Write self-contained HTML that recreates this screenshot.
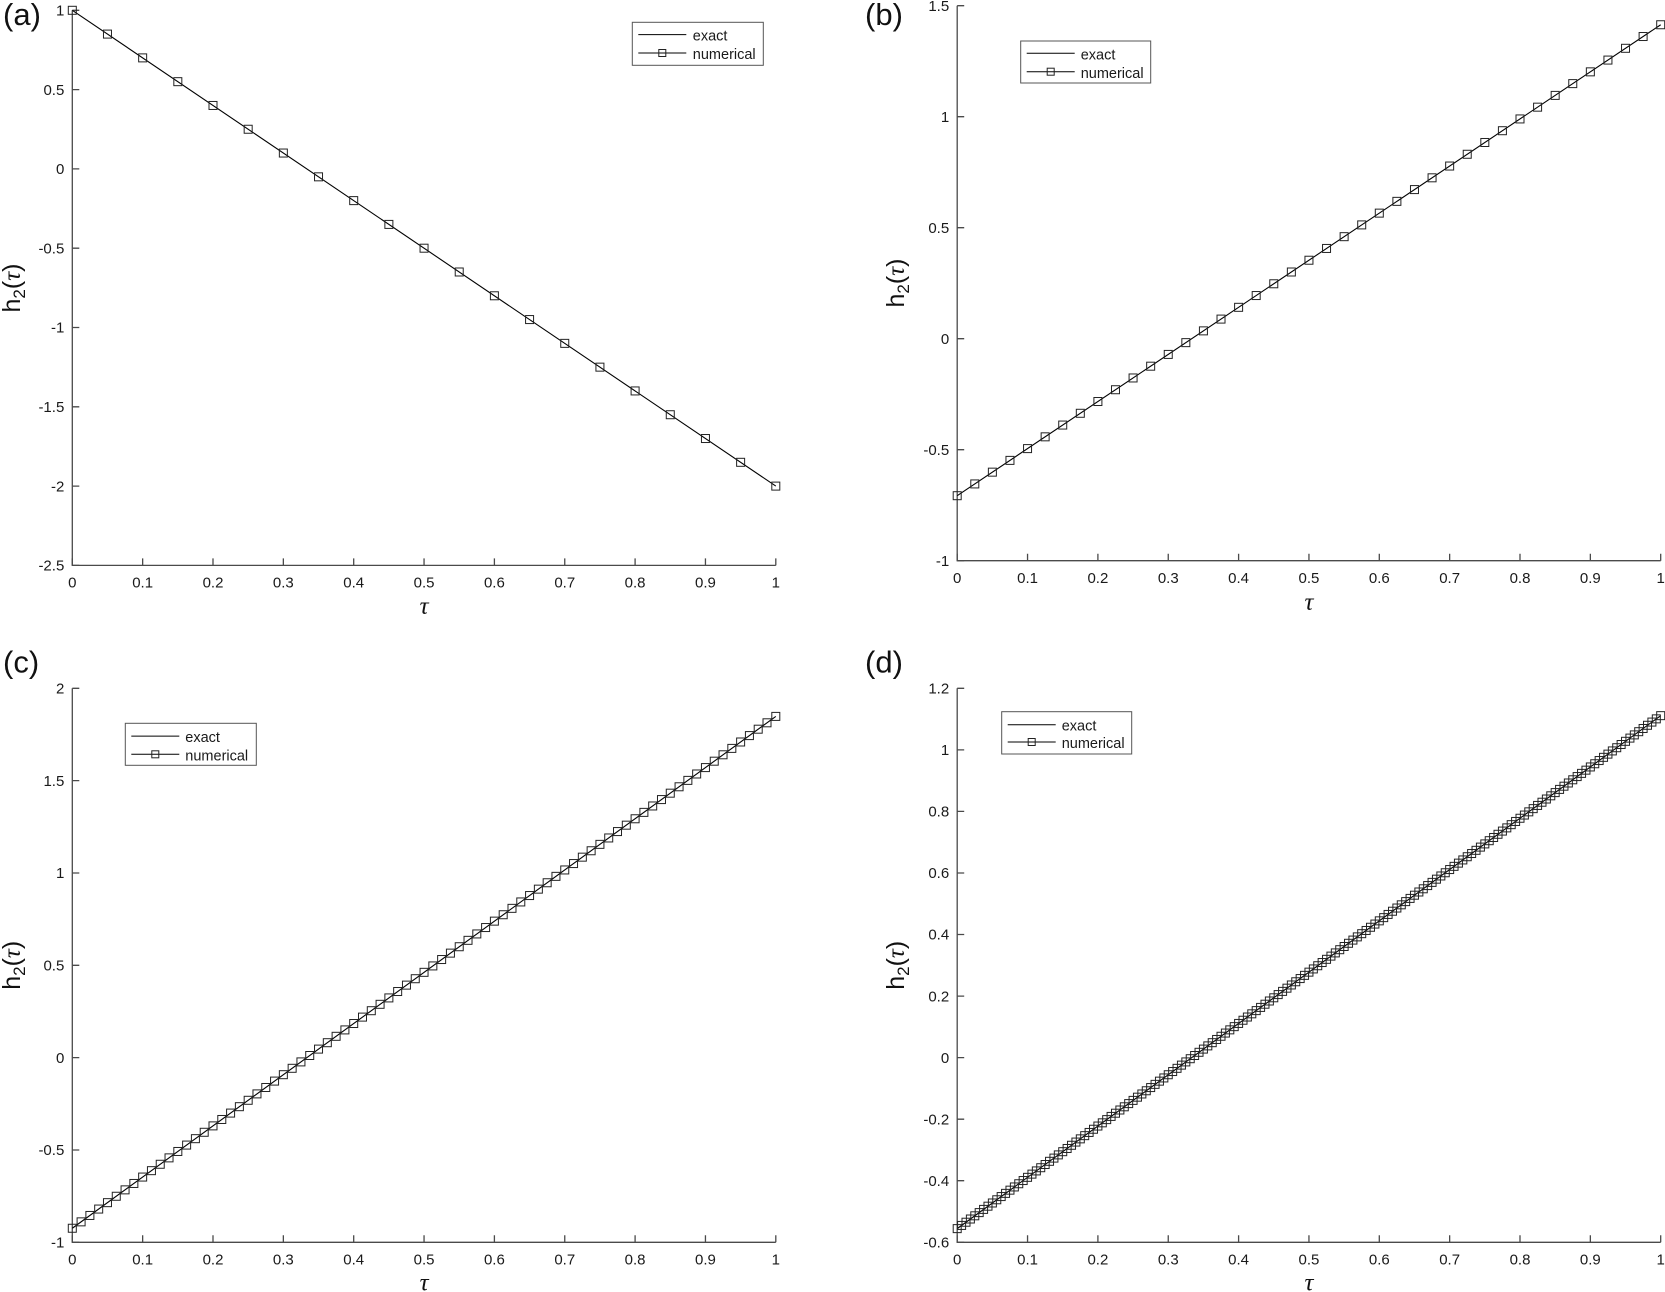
<!DOCTYPE html>
<html>
<head>
<meta charset="utf-8">
<style>
html,body{margin:0;padding:0;background:#fff;}
svg{display:block;}
.tk{font-family:"Liberation Sans",Arial,sans-serif;font-size:15px;fill:#1a1a1a;}
.lg{font-family:"Liberation Sans",Arial,sans-serif;font-size:14.5px;fill:#1a1a1a;}
.pl{font-family:"Liberation Sans",Arial,sans-serif;font-size:31px;fill:#111;}
.yl{font-family:"Liberation Sans",Arial,sans-serif;font-size:25px;fill:#111;}
.it{font-family:"Liberation Serif","DejaVu Serif",serif;font-style:italic;}
.xl{font-family:"Liberation Serif","DejaVu Serif",serif;font-style:italic;font-size:25px;fill:#111;}
.ax{stroke:#4a4a4a;stroke-width:1.3;fill:none;}
.dl{stroke:#000;stroke-width:1.1;fill:none;}
</style>
</head>
<body>
<svg width="1665" height="1292" viewBox="0 0 1665 1292">
<defs>
<rect id="sq" x="-4" y="-4" width="8" height="8" fill="none" stroke="#222" stroke-width="1"/>
<rect id="lsq" x="-3.5" y="-3.5" width="7" height="7" fill="none" stroke="#222" stroke-width="1"/>
<g id="a2"><use href="#sq"/><use href="#sq" x="35.175" y="23.79"/></g>
<g id="a4"><use href="#a2"/><use href="#a2" x="70.35" y="47.58"/></g>
<g id="a8"><use href="#a4"/><use href="#a4" x="140.7" y="95.16"/></g>
<g id="a16"><use href="#a8"/><use href="#a8" x="281.4" y="190.32"/></g>
<g id="b2"><use href="#sq"/><use href="#sq" x="17.5875" y="-11.77375"/></g>
<g id="b4"><use href="#b2"/><use href="#b2" x="35.175" y="-23.5475"/></g>
<g id="b8"><use href="#b4"/><use href="#b4" x="70.35" y="-47.095"/></g>
<g id="b16"><use href="#b8"/><use href="#b8" x="140.7" y="-94.19"/></g>
<g id="b32"><use href="#b16"/><use href="#b16" x="281.4" y="-188.38"/></g>
<g id="c2"><use href="#sq"/><use href="#sq" x="8.79375" y="-6.398125"/></g>
<g id="c4"><use href="#c2"/><use href="#c2" x="17.5875" y="-12.79625"/></g>
<g id="c8"><use href="#c4"/><use href="#c4" x="35.175" y="-25.5925"/></g>
<g id="c16"><use href="#c8"/><use href="#c8" x="70.35" y="-51.185"/></g>
<g id="c32"><use href="#c16"/><use href="#c16" x="140.7" y="-102.37"/></g>
<g id="c64"><use href="#c32"/><use href="#c32" x="281.4" y="-204.74"/></g>
<g id="d2"><use href="#sq"/><use href="#sq" x="4.396875" y="-3.2060625"/></g>
<g id="d4"><use href="#d2"/><use href="#d2" x="8.79375" y="-6.412125"/></g>
<g id="d8"><use href="#d4"/><use href="#d4" x="17.5875" y="-12.82425"/></g>
<g id="d16"><use href="#d8"/><use href="#d8" x="35.175" y="-25.6485"/></g>
<g id="d32"><use href="#d16"/><use href="#d16" x="70.35" y="-51.297"/></g>
<g id="d64"><use href="#d32"/><use href="#d32" x="140.7" y="-102.594"/></g>
<g id="d128"><use href="#d64"/><use href="#d64" x="281.4" y="-205.188"/></g>
</defs>

<!-- ================= PANEL (a) ================= -->
<text class="pl" x="3" y="25">(a)</text>
<path class="ax" d="M72.3 10.3 V565.4 H775.8"/>
<path class="ax" d="M72.3 10.3h7 M72.3 89.6h7 M72.3 168.9h7 M72.3 248.2h7 M72.3 327.5h7 M72.3 406.8h7 M72.3 486.1h7 M72.3 565.4h7
 M72.3 565.4v-7 M142.65 565.4v-7 M213 565.4v-7 M283.35 565.4v-7 M353.7 565.4v-7 M424.05 565.4v-7 M494.4 565.4v-7 M564.75 565.4v-7 M635.1 565.4v-7 M705.45 565.4v-7 M775.8 565.4v-7"/>
<g class="tk" text-anchor="end">
<text x="64.3" y="15.5">1</text>
<text x="64.3" y="94.8">0.5</text>
<text x="64.3" y="174.1">0</text>
<text x="64.3" y="253.4">-0.5</text>
<text x="64.3" y="332.7">-1</text>
<text x="64.3" y="412">-1.5</text>
<text x="64.3" y="491.3">-2</text>
<text x="64.3" y="570.6">-2.5</text>
</g>
<g class="tk" text-anchor="middle">
<text x="72.3" y="587.7">0</text>
<text x="142.65" y="587.7">0.1</text>
<text x="213" y="587.7">0.2</text>
<text x="283.35" y="587.7">0.3</text>
<text x="353.7" y="587.7">0.4</text>
<text x="424.05" y="587.7">0.5</text>
<text x="494.4" y="587.7">0.6</text>
<text x="564.75" y="587.7">0.7</text>
<text x="635.1" y="587.7">0.8</text>
<text x="705.45" y="587.7">0.9</text>
<text x="775.8" y="587.7">1</text>
</g>
<text class="yl" transform="translate(20,288) rotate(-90)" text-anchor="middle">h<tspan font-size="17" dy="5">2</tspan><tspan dy="-5">(</tspan><tspan class="it">τ</tspan><tspan>)</tspan></text>
<text class="xl" x="424.05" y="614" text-anchor="middle">τ</text>
<line class="dl" x1="72.3" y1="10.3" x2="775.8" y2="486.1"/>
<g transform="translate(72.3,10.3)">
<use href="#a16"/><use href="#a4" x="562.8" y="380.64"/><use href="#sq" x="703.5" y="475.8"/>
</g>
<g transform="translate(632.3,22.3)">
<rect x="0" y="0" width="131" height="43" fill="#fff" stroke="#555" stroke-width="1"/>
<line x1="6" y1="12.3" x2="54" y2="12.3" stroke="#000" stroke-width="1"/>
<line x1="6" y1="30.7" x2="54" y2="30.7" stroke="#000" stroke-width="1"/>
<use href="#lsq" x="30" y="30.7"/>
<text class="lg" x="60.5" y="18.3">exact</text>
<text class="lg" x="60.5" y="36.8">numerical</text>
</g>

<!-- ================= PANEL (b) ================= -->
<text class="pl" x="865" y="25">(b)</text>
<path class="ax" d="M957.2 5.7 V560.7 H1660.7"/>
<path class="ax" d="M957.2 5.7h7 M957.2 116.7h7 M957.2 227.7h7 M957.2 338.7h7 M957.2 449.7h7 M957.2 560.7h7
 M957.2 560.7v-7 M1027.55 560.7v-7 M1097.9 560.7v-7 M1168.25 560.7v-7 M1238.6 560.7v-7 M1308.95 560.7v-7 M1379.3 560.7v-7 M1449.65 560.7v-7 M1520 560.7v-7 M1590.35 560.7v-7 M1660.7 560.7v-7"/>
<g class="tk" text-anchor="end">
<text x="949.2" y="10.9">1.5</text>
<text x="949.2" y="121.9">1</text>
<text x="949.2" y="232.9">0.5</text>
<text x="949.2" y="343.9">0</text>
<text x="949.2" y="454.9">-0.5</text>
<text x="949.2" y="565.9">-1</text>
</g>
<g class="tk" text-anchor="middle">
<text x="957.2" y="583">0</text>
<text x="1027.55" y="583">0.1</text>
<text x="1097.9" y="583">0.2</text>
<text x="1168.25" y="583">0.3</text>
<text x="1238.6" y="583">0.4</text>
<text x="1308.95" y="583">0.5</text>
<text x="1379.3" y="583">0.6</text>
<text x="1449.65" y="583">0.7</text>
<text x="1520" y="583">0.8</text>
<text x="1590.35" y="583">0.9</text>
<text x="1660.7" y="583">1</text>
</g>
<text class="yl" transform="translate(904,283) rotate(-90)" text-anchor="middle">h<tspan font-size="17" dy="5">2</tspan><tspan dy="-5">(</tspan><tspan class="it">τ</tspan><tspan>)</tspan></text>
<text class="xl" x="1308.95" y="610" text-anchor="middle">τ</text>
<line class="dl" x1="957.2" y1="495.7" x2="1660.7" y2="24.75"/>
<g transform="translate(957.2,495.7)">
<use href="#b32"/><use href="#b8" x="562.8" y="-376.76"/><use href="#sq" x="703.5" y="-470.95"/>
</g>
<g transform="translate(1020.7,41)">
<rect x="0" y="0" width="130" height="42" fill="#fff" stroke="#555" stroke-width="1"/>
<line x1="6" y1="12.3" x2="54" y2="12.3" stroke="#000" stroke-width="1"/>
<line x1="6" y1="30.7" x2="54" y2="30.7" stroke="#000" stroke-width="1"/>
<use href="#lsq" x="30" y="30.7"/>
<text class="lg" x="60" y="18.3">exact</text>
<text class="lg" x="60" y="36.8">numerical</text>
</g>

<!-- ================= PANEL (c) ================= -->
<text class="pl" x="3" y="672.4">(c)</text>
<path class="ax" d="M72.3 688.3 V1242.3 H775.8"/>
<path class="ax" d="M72.3 688.3h7 M72.3 780.6h7 M72.3 873h7 M72.3 965.3h7 M72.3 1057.6h7 M72.3 1150h7 M72.3 1242.3h7
 M72.3 1242.3v-7 M142.65 1242.3v-7 M213 1242.3v-7 M283.35 1242.3v-7 M353.7 1242.3v-7 M424.05 1242.3v-7 M494.4 1242.3v-7 M564.75 1242.3v-7 M635.1 1242.3v-7 M705.45 1242.3v-7 M775.8 1242.3v-7"/>
<g class="tk" text-anchor="end">
<text x="64.3" y="693.5">2</text>
<text x="64.3" y="785.8">1.5</text>
<text x="64.3" y="878.2">1</text>
<text x="64.3" y="970.5">0.5</text>
<text x="64.3" y="1062.8">0</text>
<text x="64.3" y="1155.2">-0.5</text>
<text x="64.3" y="1247.5">-1</text>
</g>
<g class="tk" text-anchor="middle">
<text x="72.3" y="1264.6">0</text>
<text x="142.65" y="1264.6">0.1</text>
<text x="213" y="1264.6">0.2</text>
<text x="283.35" y="1264.6">0.3</text>
<text x="353.7" y="1264.6">0.4</text>
<text x="424.05" y="1264.6">0.5</text>
<text x="494.4" y="1264.6">0.6</text>
<text x="564.75" y="1264.6">0.7</text>
<text x="635.1" y="1264.6">0.8</text>
<text x="705.45" y="1264.6">0.9</text>
<text x="775.8" y="1264.6">1</text>
</g>
<text class="yl" transform="translate(20,965.3) rotate(-90)" text-anchor="middle">h<tspan font-size="17" dy="5">2</tspan><tspan dy="-5">(</tspan><tspan class="it">τ</tspan><tspan>)</tspan></text>
<text class="xl" x="424.05" y="1290.5" text-anchor="middle">τ</text>
<line class="dl" x1="72.3" y1="1228.25" x2="775.8" y2="716.4"/>
<g transform="translate(72.3,1228.25)">
<use href="#c64"/><use href="#c16" x="562.8" y="-409.48"/><use href="#sq" x="703.5" y="-511.85"/>
</g>
<g transform="translate(125.3,723.3)">
<rect x="0" y="0" width="131" height="42" fill="#fff" stroke="#555" stroke-width="1"/>
<line x1="6" y1="12.8" x2="54" y2="12.8" stroke="#000" stroke-width="1"/>
<line x1="6" y1="31" x2="54" y2="31" stroke="#000" stroke-width="1"/>
<use href="#lsq" x="30" y="31"/>
<text class="lg" x="60" y="18.6">exact</text>
<text class="lg" x="60" y="37">numerical</text>
</g>

<!-- ================= PANEL (d) ================= -->
<text class="pl" x="865" y="672.4">(d)</text>
<path class="ax" d="M957.2 688.3 V1242.3 H1660.7"/>
<path class="ax" d="M957.2 688.3h7 M957.2 749.9h7 M957.2 811.4h7 M957.2 873h7 M957.2 934.5h7 M957.2 996.1h7 M957.2 1057.6h7 M957.2 1119.2h7 M957.2 1180.7h7 M957.2 1242.3h7
 M957.2 1242.3v-7 M1027.55 1242.3v-7 M1097.9 1242.3v-7 M1168.25 1242.3v-7 M1238.6 1242.3v-7 M1308.95 1242.3v-7 M1379.3 1242.3v-7 M1449.65 1242.3v-7 M1520 1242.3v-7 M1590.35 1242.3v-7 M1660.7 1242.3v-7"/>
<g class="tk" text-anchor="end">
<text x="949.2" y="693.5">1.2</text>
<text x="949.2" y="755.1">1</text>
<text x="949.2" y="816.6">0.8</text>
<text x="949.2" y="878.2">0.6</text>
<text x="949.2" y="939.7">0.4</text>
<text x="949.2" y="1001.3">0.2</text>
<text x="949.2" y="1062.8">0</text>
<text x="949.2" y="1124.4">-0.2</text>
<text x="949.2" y="1185.9">-0.4</text>
<text x="949.2" y="1247.5">-0.6</text>
</g>
<g class="tk" text-anchor="middle">
<text x="957.2" y="1264.6">0</text>
<text x="1027.55" y="1264.6">0.1</text>
<text x="1097.9" y="1264.6">0.2</text>
<text x="1168.25" y="1264.6">0.3</text>
<text x="1238.6" y="1264.6">0.4</text>
<text x="1308.95" y="1264.6">0.5</text>
<text x="1379.3" y="1264.6">0.6</text>
<text x="1449.65" y="1264.6">0.7</text>
<text x="1520" y="1264.6">0.8</text>
<text x="1590.35" y="1264.6">0.9</text>
<text x="1660.7" y="1264.6">1</text>
</g>
<text class="yl" transform="translate(904,965.3) rotate(-90)" text-anchor="middle">h<tspan font-size="17" dy="5">2</tspan><tspan dy="-5">(</tspan><tspan class="it">τ</tspan><tspan>)</tspan></text>
<text class="xl" x="1308.95" y="1290.5" text-anchor="middle">τ</text>
<line class="dl" x1="957.2" y1="1228.63" x2="1660.7" y2="715.66"/>
<g transform="translate(957.2,1228.63)">
<use href="#d128"/><use href="#d32" x="562.8" y="-410.376"/><use href="#sq" x="703.5" y="-512.97"/>
</g>
<g transform="translate(1001.7,711.7)">
<rect x="0" y="0" width="130" height="42.3" fill="#fff" stroke="#555" stroke-width="1"/>
<line x1="6" y1="13" x2="54" y2="13" stroke="#000" stroke-width="1"/>
<line x1="6" y1="30.3" x2="54" y2="30.3" stroke="#000" stroke-width="1"/>
<use href="#lsq" x="30" y="30.3"/>
<text class="lg" x="60" y="18.8">exact</text>
<text class="lg" x="60" y="36.4">numerical</text>
</g>
</svg>
</body>
</html>
